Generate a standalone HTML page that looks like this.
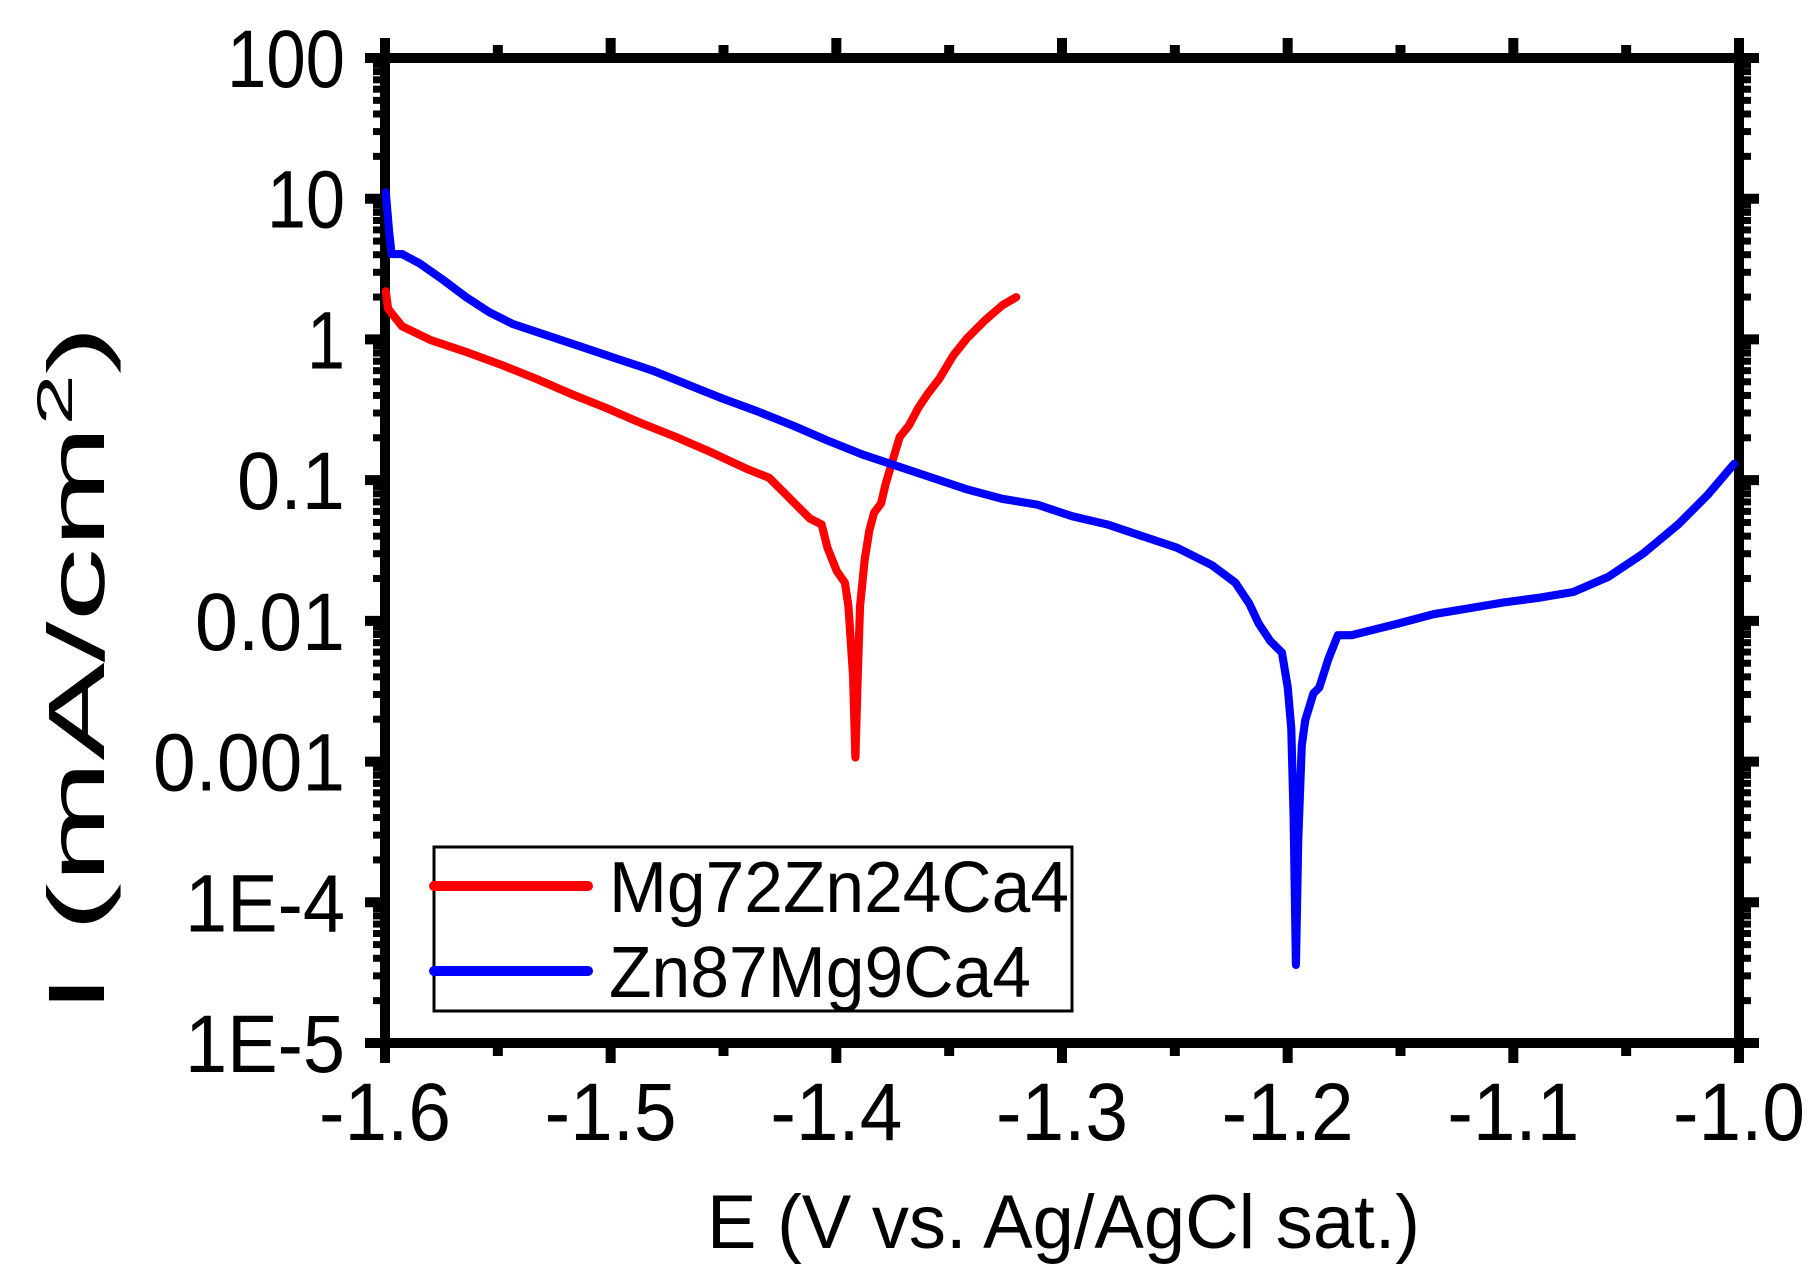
<!DOCTYPE html>
<html><head><meta charset="utf-8"><style>
html,body{margin:0;padding:0;background:#fff;}
svg{display:block;}
text{font-family:"Liberation Sans",Arial,sans-serif;fill:#000;}
</style></head><body>
<svg id="s" width="1818" height="1279" viewBox="0 0 1818 1279" xmlns="http://www.w3.org/2000/svg">
<g id="ticks" stroke="#000" fill="none"></g>
<rect x="385" y="58" width="1354" height="985" fill="none" stroke="#000" stroke-width="10"/>
<g transform="scale(1.1654)" fill="none" stroke-linejoin="round" stroke-linecap="round" stroke-width="7">
<polyline stroke="#ff0000" points="331,250 333,265 345,280 370,292 400,302 430,313 460,325 490,338 520,350 550,363 580,375 610,388 640,402 660,410 672,422 685,435 695,445 705,450 710,470 718,490 725,500 728,520 732,580 734,650 736,580 738,520 742,480 746,455 750,440 756,432 760,415 766,395 772,375 780,365 788,350 796,338 806,325 818,305 830,290 845,275 860,262 872,255"/>
<polyline stroke="#0000ff" points="331,165 334,200 336,218 345,218 360,226 380,240 400,255 420,268 440,278 470,288 500,298 530,308 560,318 590,330 620,342 650,353 680,365 710,378 740,390 770,400 800,410 830,420 860,428 890,433 920,443 950,450 980,460 1010,470 1040,485 1060,500 1072,518 1080,535 1090,550 1100,560 1105,590 1108,625 1110,700 1112,828 1114,720 1117,640 1120,618 1127,595 1132,590 1140,565 1148,545 1160,545 1180,540 1200,535 1230,527 1260,522 1290,517 1320,513 1350,508 1380,495 1410,475 1440,450 1465,425 1488,398"/>
</g>
<rect x="434" y="847" width="638" height="164" fill="#fff" stroke="#000" stroke-width="3"/>
<line x1="434" y1="886" x2="588" y2="886" stroke="#ff0000" stroke-width="10" stroke-linecap="round"/>
<line x1="434" y1="971" x2="588" y2="971" stroke="#0000ff" stroke-width="10" stroke-linecap="round"/>
<text x="609" y="912" font-size="72" textLength="460" lengthAdjust="spacingAndGlyphs">Mg72Zn24Ca4</text>
<text x="609" y="997" font-size="72" textLength="422" lengthAdjust="spacingAndGlyphs">Zn87Mg9Ca4</text>
<g id="labels" font-size="82"></g>
<text x="707" y="1248" font-size="76" textLength="713" lengthAdjust="spacingAndGlyphs">E (V vs. Ag/AgCl sat.)</text>
<text transform="translate(104,1014) rotate(-90) scale(1.84,1)" font-size="80">I (mA/cm<tspan font-size="50" dy="-32">2</tspan><tspan dy="32">)</tspan></text>
</svg>
<script>
var NS="http://www.w3.org/2000/svg";
var t=document.getElementById('ticks'),L=document.getElementById('labels');
function ln(x1,y1,x2,y2,w){var e=document.createElementNS(NS,'line');e.setAttribute('x1',x1);e.setAttribute('y1',y1);e.setAttribute('x2',x2);e.setAttribute('y2',y2);e.setAttribute('stroke-width',w);t.appendChild(e);}
function tx(x,y,s,a,w){var e=document.createElementNS(NS,'text');e.setAttribute('x',x);e.setAttribute('y',y);e.setAttribute('text-anchor',a);if(w){e.setAttribute('textLength',w);e.setAttribute('lengthAdjust','spacingAndGlyphs');}e.textContent=s;L.appendChild(e);return e;}
var X0=385,X1=1739,Y0=58,Y1=1043;
var xl=['-1.6','-1.5','-1.4','-1.3','-1.2','-1.1','-1.0'];
for(var i=0;i<=12;i++){var x=X0+(X1-X0)*i/12;var maj=i%2==0;var len=maj?20:13;
ln(x,Y1,x,Y1+len,10);ln(x,Y0,x,Y0-len,10);
if(maj)tx(x,1140,xl[i/2],'middle',132);}
var yl=['100','10','1','0.1','0.01','0.001','1E-4','1E-5'];
var yw=[118,78,38,108,150,192,160,160];
var dec=(Y1-Y0)/7;
for(var d=0;d<=7;d++){var y=Y0+d*dec;ln(X0-20,y,X0,y,10);ln(X1,y,X1+20,y,10);
tx(345,y+29,yl[d],'end',yw[d]);
if(d<7){for(var m=2;m<=9;m++){var yy=Y0+(d+1)*dec-Math.log10(m)*dec;ln(X0-12,yy,X0,yy,7);ln(X1,yy,X1+12,yy,7);}}}
</script>
</body></html>
